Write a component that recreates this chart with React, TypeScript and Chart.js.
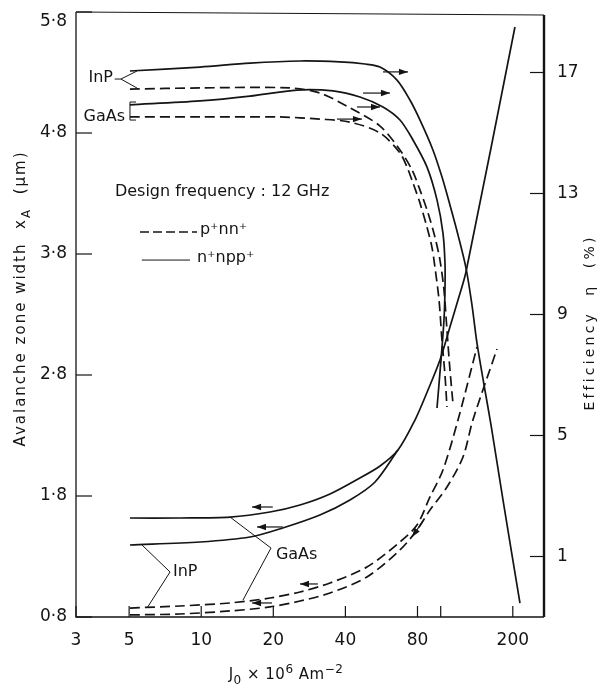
import React, { useEffect, useRef } from 'react';
import { Chart, registerables } from 'chart.js';

Chart.register(...registerables);

const FONT = '"DejaVu Sans", "Liberation Sans", sans-serif';
const INK = '#141414';

// ---- axis ticks ----
const currentTicks = [3, 5, 10, 20, 40, 80, 100, 200];
const currentTickLabels = ['3', '5', '10', '20', '40', '80', '', '200'];
const widthTicks = [0.8, 1.8, 2.8, 3.8, 4.8, 5.8];
const widthTickLabels = ['0·8', '1·8', '2·8', '3·8', '4·8', '5·8'];
const effTicks = [1, 5, 9, 13, 17];
const effTickLabels = ['1', '5', '9', '13', '17'];

// ---- efficiency η (%) — right axis ----
const effInPnppJ = [5.04, 9.88, 15.98, 25.85, 37.97, 48.3, 55.8, 65.7, 74.4, 82.7, 92.8, 101.2, 109.3, 118.1, 127.5, 135.1, 141.7, 153.0, 162.2, 182.0, 214.3];
const effInPnpp = [17.05, 17.18, 17.31, 17.38, 17.35, 17.28, 17.18, 16.75, 16.09, 15.36, 14.44, 13.55, 12.62, 11.63, 10.54, 9.31, 8.06, 6.5, 5.35, 2.87, -0.54];

const effGaAsnppJ = [5.04, 9.88, 15.98, 25.1, 35.5, 46.0, 57.4, 67.6, 76.6, 87.6, 96.5, 102.2, 104.2, 104.2, 103.2, 100.3, 96.5];
const effGaAsnpp = [15.93, 16.06, 16.22, 16.42, 16.39, 16.19, 15.86, 15.43, 14.77, 13.88, 12.79, 11.69, 10.7, 9.81, 8.82, 7.5, 5.91];

const effInPpnnJ = [5.04, 9.88, 23.5, 31.3, 41.8, 55.8, 67.6, 75.9, 81.9, 88.5, 94.6, 99.3, 103.2, 106.2, 109.3, 112.5];
const effInPpnn = [16.45, 16.49, 16.49, 16.32, 15.83, 15.23, 14.44, 13.78, 13.12, 12.36, 11.56, 10.8, 9.81, 8.49, 7.17, 6.07];

const effGaAspnnJ = [5.04, 9.88, 21.3, 31.3, 41.8, 55.8, 67.6, 72.3, 76.6, 81.9, 87.6, 91.9, 94.6, 98.4, 101.2, 104.2, 106.2];
const effGaAspnn = [15.53, 15.53, 15.53, 15.46, 15.36, 15.0, 14.34, 13.88, 13.35, 12.69, 11.89, 11.23, 10.57, 9.48, 8.16, 7.0, 5.94];

// ---- avalanche zone width xA (µm) — left axis ----
const wGaAsnppJ = [5.04, 8.15, 13.19, 19.37, 25.85, 34.5, 46.0, 55.8, 66.3, 78.1, 88.5, 99.3, 109.3, 118.1, 127.5, 204.2];
const wGaAsnpp = [1.618, 1.618, 1.626, 1.668, 1.726, 1.817, 1.949, 2.048, 2.18, 2.428, 2.676, 2.924, 3.197, 3.42, 3.651, 5.676];

const wInPnppJ = [5.04, 9.88, 15.98, 21.9, 31.3, 41.8, 53.2, 66.3];
const wInPnpp = [1.395, 1.42, 1.461, 1.536, 1.643, 1.767, 1.916, 2.18];

const wInPpnnJ = [5.04, 8.15, 13.19, 19.37, 25.85, 34.5, 49.2, 67.6, 79.6, 90.2, 102.2, 118.1, 141.7];
const wInPpnn = [0.874, 0.891, 0.916, 0.957, 1.007, 1.081, 1.213, 1.42, 1.56, 1.792, 2.015, 2.428, 3.031];

const wGaAspnnJ = [5.04, 8.15, 13.19, 19.37, 25.85, 34.5, 49.2, 67.6, 79.6, 90.2, 106.2, 123.9, 136.3, 171.8];
const wGaAspnn = [0.817, 0.825, 0.85, 0.883, 0.932, 0.998, 1.131, 1.354, 1.519, 1.684, 1.874, 2.122, 2.428, 3.015];

// ---- annotations (data coordinates) ----
// efficiency arrows: [fromJ, toJ, η]
const effArrows = [
  [57.4, 73.0, 17.02],
  [47.4, 61.4, 16.32],
  [44.7, 55.8, 15.86],
  [36.9, 46.9, 15.46],
];
// width arrows: [fromJ, toJ, fromW, toW]
const widthArrows = [
  [19.9, 16.3, 1.709, 1.709],
  [21.9, 17.1, 1.544, 1.544],
  [19.75, 16.3, 0.916, 0.916],
  [30.7, 25.85, 1.073, 1.073],
  [84.3, 75.9, 1.593, 1.461],
];
// text labels: [text, J, width, align, size]
const textLabels: [string, number, number, CanvasTextAlign, number][] = [
  ['InP', 4.28, 5.255, 'right', 16],
  ['GaAs', 4.81, 4.932, 'right', 16],
  ['Design frequency : 12 GHz', 4.36, 4.312, 'left', 16],
  ['p⁺nn⁺', 9.88, 3.998, 'left', 16],
  ['n⁺npp⁺', 9.6, 3.767, 'left', 16],
  ['InP', 7.62, 1.172, 'left', 16],
  ['GaAs', 20.5, 1.312, 'left', 16],
];
// leader / legend polylines: [[J, width], ...]
const leaders: number[][][] = [
  [[4.35, 5.246], [4.62, 5.246], [5.39, 5.312]],
  [[4.62, 5.246], [5.39, 5.172]],
  [[5.34, 5.056], [5.04, 5.056], [5.04, 4.907], [5.34, 4.907]],
  [[5.65, 3.75], [8.98, 3.75]],
  [[5.66, 1.395], [7.41, 1.172], [5.94, 0.874]],
  [[13.19, 1.626], [19.56, 1.37], [14.94, 0.94]],
];
const legendDash: number[][] = [[5.55, 3.982], [9.6, 3.982]];

function series(label: string, xs: number[], ys: number[], axis: string, dashed: boolean) {
  return {
    label,
    data: xs.map((x, i) => ({ x, y: ys[i] })),
    yAxisID: axis,
    borderColor: INK,
    borderWidth: 1.7,
    borderDash: dashed ? [10, 5] : [],
    pointRadius: 0,
    tension: 0.3,
    fill: false,
  };
}

function arrow(ctx: CanvasRenderingContext2D, x1: number, y1: number, x2: number, y2: number) {
  ctx.beginPath();
  ctx.moveTo(x1, y1);
  ctx.lineTo(x2, y2);
  ctx.stroke();
  const a = Math.atan2(y2 - y1, x2 - x1);
  const L = 9, W = 3.2;
  ctx.beginPath();
  ctx.moveTo(x2, y2);
  ctx.lineTo(x2 - L * Math.cos(a) + W * Math.sin(a), y2 - L * Math.sin(a) - W * Math.cos(a));
  ctx.lineTo(x2 - L * Math.cos(a) - W * Math.sin(a), y2 - L * Math.sin(a) + W * Math.cos(a));
  ctx.closePath();
  ctx.fill();
}

type Seg = { t: string; k?: number; dy?: number };
function drawRich(ctx: CanvasRenderingContext2D, segs: Seg[], cx: number, cy: number, size: number, rot: number, spacing: number) {
  ctx.save();
  ctx.translate(cx, cy);
  ctx.rotate(rot);
  ctx.textAlign = 'left';
  ctx.textBaseline = 'alphabetic';
  (ctx as any).letterSpacing = spacing + 'px';
  const widths = segs.map((s) => {
    ctx.font = `${Math.round(size * (s.k || 1))}px ${FONT}`;
    return ctx.measureText(s.t).width;
  });
  const total = widths.reduce((a, b) => a + b, 0);
  let x = -total / 2;
  segs.forEach((s, i) => {
    ctx.font = `${Math.round(size * (s.k || 1))}px ${FONT}`;
    ctx.fillText(s.t, x, size * 0.36 + (s.dy || 0) * size);
    x += widths[i];
  });
  ctx.restore();
}

const overlay = {
  id: 'overlay',
  afterDatasetsDraw(chart: any) {
    const ctx: CanvasRenderingContext2D = chart.ctx;
    const xs = chart.scales.x, ys = chart.scales.y, y2 = chart.scales.y2;
    ctx.save();
    ctx.strokeStyle = INK;
    ctx.fillStyle = INK;
    ctx.lineWidth = 1.2;
    effArrows.forEach(([a, b, e]) => {
      arrow(ctx, xs.getPixelForValue(a), y2.getPixelForValue(e), xs.getPixelForValue(b), y2.getPixelForValue(e));
    });
    widthArrows.forEach(([a, b, w1, w2]) => {
      arrow(ctx, xs.getPixelForValue(a), ys.getPixelForValue(w1), xs.getPixelForValue(b), ys.getPixelForValue(w2));
    });
    ctx.lineWidth = 1;
    leaders.forEach((pl) => {
      ctx.beginPath();
      pl.forEach(([j, w], i) => {
        const px = xs.getPixelForValue(j), py = ys.getPixelForValue(w);
        if (i === 0) ctx.moveTo(px, py); else ctx.lineTo(px, py);
      });
      ctx.stroke();
    });
    ctx.lineWidth = 1.3;
    ctx.setLineDash([9, 4]);
    ctx.beginPath();
    ctx.moveTo(xs.getPixelForValue(legendDash[0][0]), ys.getPixelForValue(legendDash[0][1]));
    ctx.lineTo(xs.getPixelForValue(legendDash[1][0]), ys.getPixelForValue(legendDash[1][1]));
    ctx.stroke();
    ctx.setLineDash([]);
    ctx.textBaseline = 'middle';
    textLabels.forEach(([t, j, w, al, sz]) => {
      ctx.font = `${sz}px ${FONT}`;
      ctx.textAlign = al;
      ctx.fillText(t, xs.getPixelForValue(j), ys.getPixelForValue(w));
    });
    ctx.restore();
  },
  afterDraw(chart: any) {
    const ctx: CanvasRenderingContext2D = chart.ctx;
    const { left, right, top, bottom } = chart.chartArea;
    const xs = chart.scales.x, ys = chart.scales.y, y2 = chart.scales.y2;
    ctx.save();
    ctx.strokeStyle = INK;
    ctx.fillStyle = INK;
    // frame
    ctx.lineWidth = 1.3;
    ctx.beginPath();
    ctx.moveTo(left, top);
    ctx.lineTo(left, bottom);
    ctx.lineTo(right, bottom);
    ctx.stroke();
    ctx.lineWidth = 1;
    ctx.beginPath();
    ctx.moveTo(left, top);
    ctx.lineTo(right, top + 3);
    ctx.stroke();
    ctx.lineWidth = 2.4;
    ctx.beginPath();
    ctx.moveTo(right, top + 3);
    ctx.lineTo(right, bottom);
    ctx.stroke();
    // inward tick marks
    ctx.lineWidth = 1.2;
    widthTicks.forEach((v) => {
      const py = ys.getPixelForValue(v);
      ctx.beginPath(); ctx.moveTo(left, py); ctx.lineTo(left + 16, py); ctx.stroke();
    });
    effTicks.forEach((v) => {
      const py = y2.getPixelForValue(v);
      ctx.beginPath(); ctx.moveTo(right, py); ctx.lineTo(right - 14, py); ctx.stroke();
    });
    currentTicks.forEach((v) => {
      const px = xs.getPixelForValue(v);
      ctx.beginPath(); ctx.moveTo(px, bottom); ctx.lineTo(px, bottom - 11); ctx.stroke();
    });
    // top-most tick label sits a little below its tick in the original
    ctx.font = `17px ${FONT}`;
    ctx.textAlign = 'right';
    ctx.textBaseline = 'middle';
    const topIdx = widthTicks.length - 1;
    ctx.fillText(widthTickLabels[topIdx], left - 9, ys.getPixelForValue(widthTicks[topIdx]) + 10);
    // axis titles
    drawRich(ctx, [
      { t: 'Avalanche zone width  x' },
      { t: 'A', k: 0.8, dy: 0.3 },
      { t: '  (µm)' },
    ], 20, (top + bottom) / 2 - 16, 15, -Math.PI / 2, 2.0);
    drawRich(ctx, [
      { t: 'Efficiency  η  (%)' },
    ], 589, (top + bottom) / 2 + 8, 14, -Math.PI / 2, 3.2);
    drawRich(ctx, [
      { t: 'J' },
      { t: '0', k: 0.8, dy: 0.3 },
      { t: ' × 10' },
      { t: '6', k: 0.8, dy: -0.45 },
      { t: ' Am' },
      { t: '−2', k: 0.8, dy: -0.45 },
    ], 286, 674, 15, 0, 0.5);
    ctx.restore();
  },
};

const noPad = (s: any) => {
  s.paddingTop = 0;
  s.paddingBottom = 0;
  s.paddingLeft = 0;
  s.paddingRight = 0;
};

export default function App() {
  const ref = useRef<HTMLCanvasElement>(null);
  useEffect(() => {
    if (!ref.current) return;
    const tickFont = { family: FONT, size: 17 };
    const chart = new Chart(ref.current, {
      type: 'line',
      data: {
        datasets: [
          series('η InP n⁺npp⁺', effInPnppJ, effInPnpp, 'y2', false),
          series('η GaAs n⁺npp⁺', effGaAsnppJ, effGaAsnpp, 'y2', false),
          series('η InP p⁺nn⁺', effInPpnnJ, effInPpnn, 'y2', true),
          series('η GaAs p⁺nn⁺', effGaAspnnJ, effGaAspnn, 'y2', true),
          series('xA GaAs n⁺npp⁺', wGaAsnppJ, wGaAsnpp, 'y', false),
          series('xA InP n⁺npp⁺', wInPnppJ, wInPnpp, 'y', false),
          series('xA InP p⁺nn⁺', wInPpnnJ, wInPpnn, 'y', true),
          series('xA GaAs p⁺nn⁺', wGaAspnnJ, wGaAspnn, 'y', true),
        ] as any,
      },
      options: {
        responsive: false,
        maintainAspectRatio: false,
        animation: false,
        events: [],
        layout: { padding: { top: 12, left: 0, right: 0, bottom: 0 } },
        plugins: { legend: { display: false }, tooltip: { enabled: false } },
        scales: {
          x: {
            type: 'logarithmic',
            min: 3,
            max: 270,
            bounds: 'data',
            afterBuildTicks: (s: any) => { s.ticks = currentTicks.map((v) => ({ value: v })); },
            afterFit: (s: any) => { s.height = 70; noPad(s); },
            grid: { display: false, drawTicks: false },
            border: { display: false },
            ticks: {
              autoSkip: false,
              maxRotation: 0,
              padding: 13,
              color: INK,
              font: tickFont,
              callback: (_v: any, i: number) => currentTickLabels[i],
            },
          },
          y: {
            type: 'linear',
            position: 'left',
            min: 0.8,
            max: 5.8,
            bounds: 'data',
            afterBuildTicks: (s: any) => { s.ticks = widthTicks.map((v) => ({ value: v })); },
            afterFit: (s: any) => { s.width = 76; noPad(s); },
            grid: { display: false, drawTicks: false },
            border: { display: false },
            ticks: {
              padding: 9,
              color: INK,
              font: tickFont,
              callback: (_v: any, i: number) => (i === widthTicks.length - 1 ? '' : widthTickLabels[i]),
            },
          },
          y2: {
            type: 'linear',
            position: 'right',
            min: -1,
            max: 19,
            bounds: 'data',
            afterBuildTicks: (s: any) => { s.ticks = effTicks.map((v) => ({ value: v })); },
            afterFit: (s: any) => { s.width = 59; noPad(s); },
            grid: { display: false, drawTicks: false },
            border: { display: false },
            ticks: { padding: 13, color: INK, font: tickFont, callback: (_v: any, i: number) => effTickLabels[i] },
          },
        },
      } as any,
      plugins: [overlay],
    });
    return () => chart.destroy();
  }, []);
  return (
    <div style={{ position: 'absolute', left: 0, top: 0, width: 603, height: 687, background: '#fff' }}>
      <canvas ref={ref} width={603} height={687} style={{ width: 603, height: 687, display: 'block' }} />
    </div>
  );
}
